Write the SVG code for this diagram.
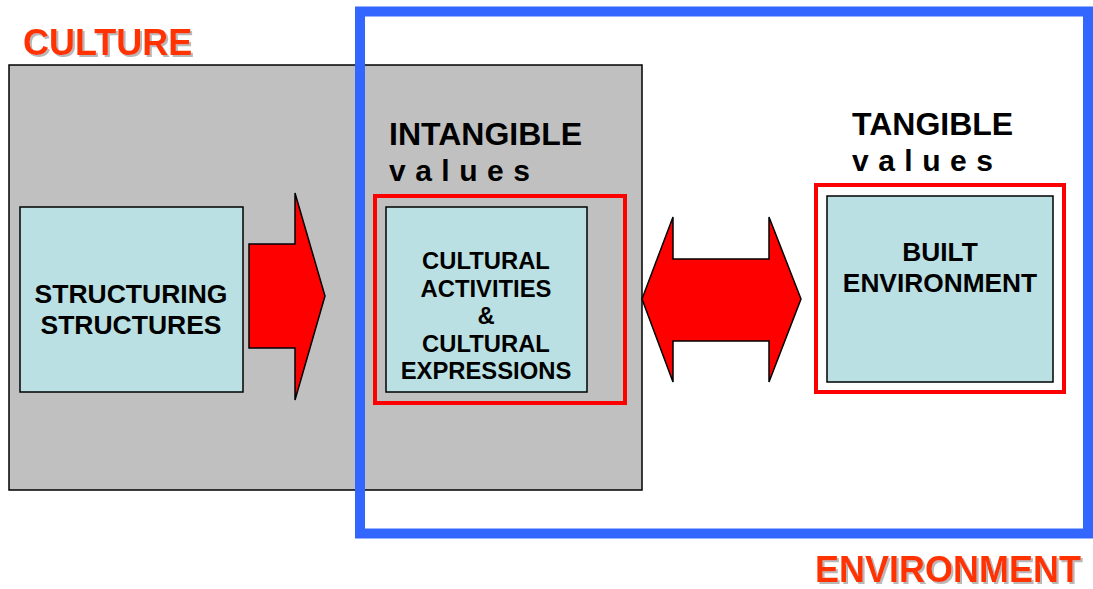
<svg xmlns="http://www.w3.org/2000/svg" width="1093" height="589" viewBox="0 0 1093 589">
<defs>
<filter id="shadow" x="-5%" y="-20%" width="110%" height="140%">
<feDropShadow dx="2" dy="2" stdDeviation="0.6" flood-color="#B0B0B0" flood-opacity="0.9"/>
</filter>
<style>
.box{fill:#BBE0E3;stroke:#000;stroke-width:1.5}
.red{fill:none;stroke:#FF0000;stroke-width:4}
.arrow{fill:#FF0000;stroke:#000;stroke-width:1.5;stroke-linejoin:miter}
.t{font-family:"Liberation Sans",Arial,sans-serif;font-weight:bold;fill:#000;text-anchor:middle}
.h{font-family:"Liberation Sans",Arial,sans-serif;font-weight:bold;fill:#000;font-size:32px}
.v{font-family:"Liberation Sans",Arial,sans-serif;font-weight:bold;fill:#000;font-size:30px;letter-spacing:9.5px}
.big{font-family:"Liberation Sans",Arial,sans-serif;font-weight:bold;fill:#FF3300;font-size:36px;filter:url(#shadow)}
</style>
</defs>
<rect width="1093" height="589" fill="#fff"/>
<g id="culture">
<rect x="9" y="65" width="633" height="425" fill="#C0C0C0" stroke="#000" stroke-width="1.5"/>
<text class="big" x="23" y="55">CULTURE</text>
</g>
<g id="environment">
<rect x="360" y="11.5" width="728" height="522" fill="none" stroke="#3366FF" stroke-width="10"/>
<text class="big" x="815" y="582">ENVIRONMENT</text>
</g>
<g id="structuring">
<rect class="box" x="20" y="207" width="223" height="185"/>
<text class="t" x="131" y="303" font-size="26.5">STRUCTURING</text>
<text class="t" x="131" y="334" font-size="26.5">STRUCTURES</text>
</g>
<g id="intangible">
<text class="h" x="389" y="145">INTANGIBLE</text>
<text class="v" x="389" y="181">values</text>
<rect class="red" x="375" y="196" width="250" height="207"/>
<rect class="box" x="386" y="207" width="201" height="185"/>
<text class="t" x="486" y="269" font-size="23.8">CULTURAL</text>
<text class="t" x="486" y="296.5" font-size="23.8">ACTIVITIES</text>
<text class="t" x="486" y="324" font-size="23.8">&amp;</text>
<text class="t" x="486" y="351.5" font-size="23.8">CULTURAL</text>
<text class="t" x="486" y="379" font-size="23.8">EXPRESSIONS</text>
</g>
<g id="tangible">
<text class="h" x="852" y="135">TANGIBLE</text>
<text class="v" x="852" y="171">values</text>
<rect class="red" x="816" y="185" width="248" height="207"/>
<rect class="box" x="827" y="196" width="226" height="186"/>
<text class="t" x="940" y="261" font-size="26.3">BUILT</text>
<text class="t" x="940" y="292" font-size="26.3">ENVIRONMENT</text>
</g>
<g id="connectors">
<polygon class="arrow" points="249,244 295,244 295,193 325,296 295,400 295,348 249,348"/>
<polygon class="arrow" points="642,299 673,217 673,259 769,259 769,217 801,299 769,382 769,341 673,341 673,382"/>
</g>
</svg>
